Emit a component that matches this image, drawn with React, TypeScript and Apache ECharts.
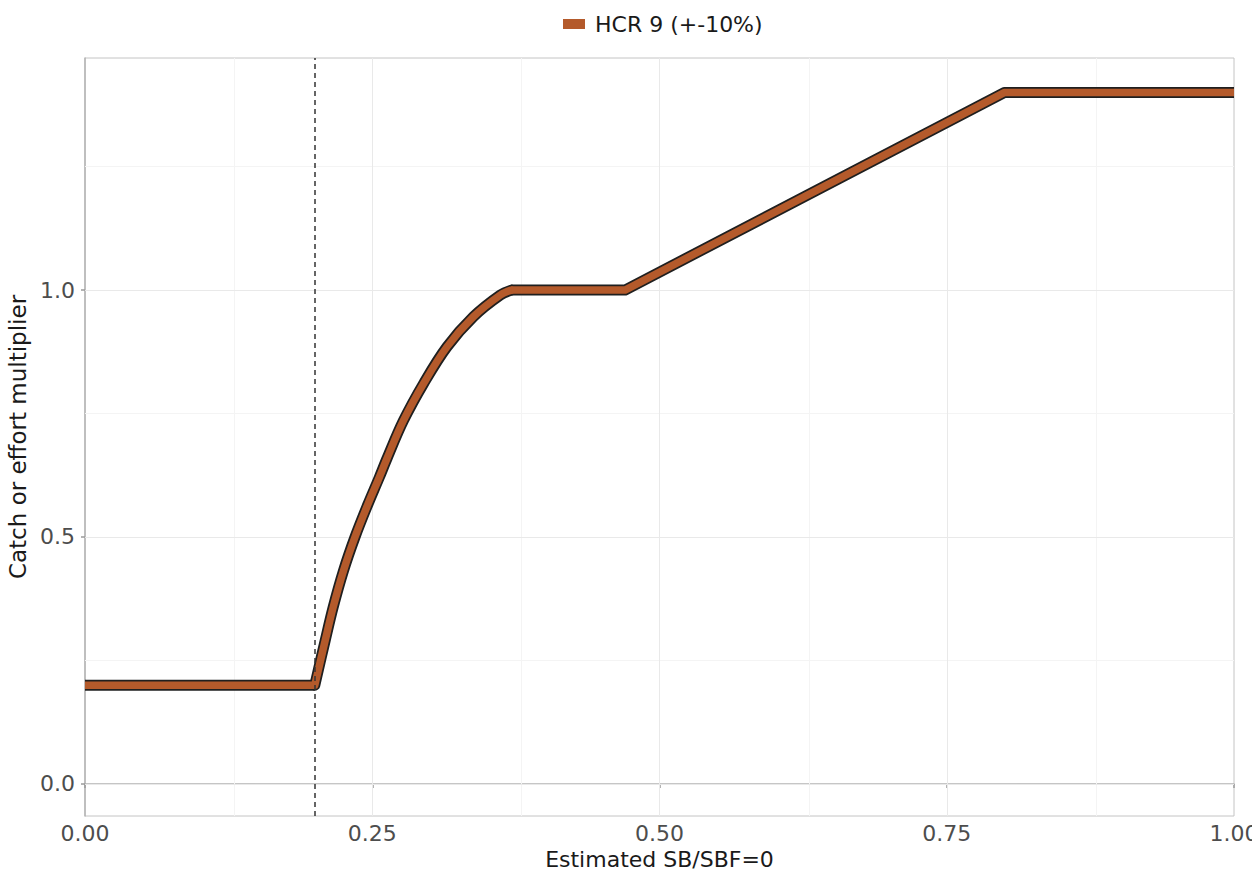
import React, { useEffect, useRef } from "react";
import * as echarts from "echarts";

// Harvest control rule (HCR 9)
const ratioX: number[] = [0, 0.2, 0.209, 0.216, 0.225, 0.235, 0.246, 0.256, 0.263, 0.277, 0.295, 0.315, 0.338, 0.3615, 0.371, 0.47, 0.8, 1.0];
const multiplierY: number[] = [0.2, 0.2, 0.29, 0.358, 0.432, 0.5, 0.565, 0.62, 0.66, 0.735, 0.812, 0.885, 0.946, 0.99, 1.0, 1.0, 1.4, 1.4];

const seriesName = "HCR 9 (+-10%)";
const limitRefPoint = 0.2;
const curveStartX = 0.2;
const curveEndX = 0.371;

const xTicks: number[] = [0, 0.25, 0.5, 0.75, 1.0];
const xMinor: number[] = [0.125, 0.375, 0.625, 0.875];
const yTicks: number[] = [0, 0.5, 1.0];
const yMinor: number[] = [0.25, 0.75, 1.25];

const ORANGE = "#b45a2b";
const OUTLINE = "#1f1f1f";
const FONT = "DejaVu Sans";

export default function App() {
  const ref = useRef<HTMLDivElement>(null);
  useEffect(() => {
    if (!ref.current) return;
    const chart = echarts.init(ref.current, null, { renderer: "svg" });
    const data = ratioX.map((x, i) => [x, multiplierY[i]]);
    const i0 = ratioX.indexOf(curveStartX);
    const i1 = ratioX.indexOf(curveEndX);
    const segments = [
      { pts: data.slice(0, i0 + 1), smooth: false, cap: "butt" },
      { pts: data.slice(i0, i1 + 1), smooth: 0.35, cap: "round" },
      { pts: data.slice(i1), smooth: false, cap: "butt" },
    ];
    const gridLine = (axis: "xAxis" | "yAxis", v: number, color: string) => ({
      [axis]: v,
      lineStyle: { color, width: 1, type: "solid" },
    });
    const lineSeries: any[] = [];
    segments.forEach((s) => {
      lineSeries.push({
        name: "outline",
        type: "line",
        data: s.pts,
        z: 2,
        smooth: s.smooth,
        symbol: "none",
        silent: true,
        lineStyle: { color: OUTLINE, width: 11, cap: s.cap, join: "round" },
        itemStyle: { color: OUTLINE },
      });
    });
    segments.forEach((s) => {
      lineSeries.push({
        name: seriesName,
        type: "line",
        data: s.pts,
        z: 3,
        smooth: s.smooth,
        symbol: "none",
        silent: true,
        lineStyle: { color: ORANGE, width: 7.5, cap: s.cap, join: "round" },
        itemStyle: { color: ORANGE },
      });
    });
    chart.setOption({
      animation: false,
      backgroundColor: "#ffffff",
      grid: {
        left: 85,
        right: 18,
        top: 58,
        bottom: 55,
        outerBoundsMode: "none",
        containLabel: false,
        show: true,
        borderColor: "#c4c4c4",
        borderWidth: 1,
        backgroundColor: "#ffffff",
      },
      legend: {
        top: 8,
        left: 558,
        data: [seriesName],
        icon: "rect",
        itemWidth: 22,
        itemHeight: 10,
        textStyle: { fontFamily: FONT, fontSize: 22, color: "#1a1a1a", padding: [0, 0, 0, 5] },
      },
      xAxis: {
        type: "value",
        min: 0,
        max: 1,
        interval: 0.25,
        name: "Estimated SB/SBF=0",
        nameLocation: "middle",
        nameGap: 29,
        nameTextStyle: { fontFamily: FONT, fontSize: 22, color: "#1a1a1a" },
        axisLine: { show: true, lineStyle: { color: "#b3b3b3", width: 1.5 } },
        axisTick: { show: true, length: 4, lineStyle: { color: "#9a9a9a", width: 1.5 } },
        axisLabel: {
          fontFamily: FONT,
          fontSize: 22,
          color: "#4d4d4d",
          margin: 6,
          formatter: (v: number) => v.toFixed(2),
        },
        splitLine: { show: false },
      },
      yAxis: {
        type: "value",
        min: -0.065,
        max: 1.47,
        name: "Catch or effort multiplier",
        nameLocation: "middle",
        nameGap: 49,
        nameTextStyle: { fontFamily: FONT, fontSize: 23, color: "#1a1a1a" },
        axisLine: { show: true, lineStyle: { color: "#b3b3b3", width: 1.5 } },
        axisTick: { show: true, length: 4, customValues: yTicks, lineStyle: { color: "#9a9a9a", width: 1.5 } },
        axisLabel: {
          fontFamily: FONT,
          fontSize: 22,
          color: "#4d4d4d",
          margin: 10,
          customValues: yTicks,
          formatter: (v: number) => v.toFixed(1),
        },
        splitLine: { show: false },
      },
      series: [
        {
          name: "gridlines",
          type: "line",
          data: [],
          z: 1,
          silent: true,
          markLine: {
            z: 1,
            silent: true,
            symbol: ["none", "none"],
            label: { show: false },
            emphasis: { disabled: true },
            data: [
              ...xMinor.map((v) => gridLine("xAxis", v, "#f4f4f4")),
              ...yMinor.map((v) => gridLine("yAxis", v, "#f4f4f4")),
              ...xTicks.slice(1, -1).map((v) => gridLine("xAxis", v, "#e9e9e9")),
              ...yTicks.map((v) => gridLine("yAxis", v, "#e9e9e9")),
            ],
          },
        },
        ...lineSeries,
        {
          name: "limit",
          type: "line",
          data: [],
          z: 4,
          silent: true,
          markLine: {
            z: 5,
            silent: true,
            symbol: ["none", "none"],
            label: { show: false },
            emphasis: { disabled: true },
            data: [{ xAxis: limitRefPoint, lineStyle: { color: "#333333", width: 1.5, type: [5, 4] } }],
          },
        },
      ],
    });
    return () => chart.dispose();
  }, []);
  return (
    <div
      ref={ref}
      style={{ position: "absolute", left: 0, top: 0, width: 1252, height: 871 }}
    />
  );
}
